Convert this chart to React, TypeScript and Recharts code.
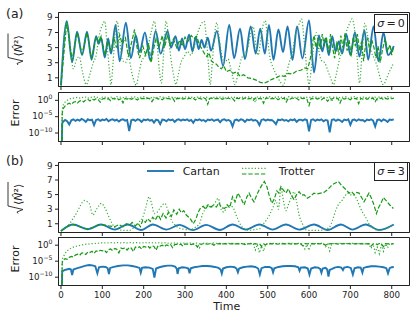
import { LineChart, Line, XAxis, YAxis, ReferenceArea, Legend } from 'recharts'

// ---------- data ----------

// (a) sigma = 0, sqrt(<N^2>)
const A_CARTAN_T = [0, 14, 27, 39, 51, 63, 74, 85, 91, 97, 106, 114, 121, 132, 142, 157, 169, 181, 190, 203, 216, 229, 241, 258, 266, 277, 285, 293, 300, 310, 318, 326, 333, 340, 347, 355, 363, 377, 392, 407, 419, 433, 445, 459, 471, 482, 493, 503, 514, 526, 537, 548, 560, 571, 584, 600, 612, 624, 632, 640, 648, 656, 664, 672, 680, 690, 700, 711, 722, 734, 743, 756, 768, 780, 791, 805]
const A_CARTAN_V = [0, 8.5, 3.1, 7.1, 4.0, 7.1, 3.4, 6.5, 5.5, 6.3, 3.7, 6.2, 4.2, 8.0, 3.2, 8.3, 3.6, 6.6, 4.4, 7.0, 3.3, 7.2, 4.2, 7.2, 5.0, 6.5, 4.6, 6.2, 4.8, 6.7, 4.5, 6.4, 4.8, 6.0, 5.0, 6.3, 4.6, 7.2, 2.6, 8.0, 3.6, 7.5, 3.5, 7.8, 4.2, 7.5, 4.2, 8.0, 3.4, 7.4, 4.4, 7.8, 3.4, 7.8, 3.6, 8.6, 1.7, 6.6, 4.5, 6.2, 4.0, 6.5, 4.5, 5.8, 4.2, 6.8, 4.0, 7.0, 3.8, 7.3, 3.4, 7.8, 3.2, 7.0, 4.0, 5.2]

const A_DASH_T = [0, 14, 27, 39, 51, 63, 74, 85, 91, 97, 106, 114, 121, 128, 134, 142, 148, 156, 163, 170, 178, 184, 190, 198, 205, 212, 218, 224, 230, 238, 245, 250, 258, 265, 272, 280, 287, 293, 300, 307, 315, 322, 328, 335, 340, 347, 353, 358, 364, 370, 376, 382, 388, 394, 400, 408, 416, 425, 433, 442, 452, 462, 472, 482, 492, 500, 510, 520, 530, 540, 550, 560, 570, 580, 590, 597, 603, 608, 612, 617, 622, 627, 632, 637, 642, 647, 652, 657, 662, 667, 672, 677, 682, 687, 692, 697, 702, 707, 712, 717, 722, 727, 732, 737, 742, 747, 752, 757, 762, 767, 772, 778, 784, 790, 796, 800, 805]
const A_DASH_V = [0, 8.4, 3.3, 7.0, 4.1, 7.0, 3.5, 6.4, 5.7, 6.5, 4.0, 5.8, 4.6, 6.4, 5.0, 6.7, 5.5, 6.3, 3.8, 5.5, 7.4, 5.0, 3.6, 5.2, 4.0, 5.6, 3.0, 4.8, 6.2, 5.2, 6.6, 5.0, 6.6, 5.4, 6.1, 5.0, 6.0, 5.2, 6.4, 5.8, 6.6, 6.2, 6.5, 5.4, 4.9, 4.2, 3.8, 4.3, 3.2, 3.0, 2.8, 2.4, 2.2, 2.6, 1.8, 2.0, 1.6, 1.8, 1.2, 1.4, 1.0, 0.9, 0.7, 0.4, 0.3, 0.5, 0.8, 1.0, 1.3, 1.2, 1.6, 1.5, 1.9, 2.0, 2.3, 2.2, 3.5, 5.5, 6.6, 5.0, 6.2, 4.8, 6.8, 5.2, 6.4, 4.3, 6.8, 5.0, 3.6, 5.8, 4.0, 6.6, 5.0, 6.9, 4.6, 6.0, 3.8, 6.4, 5.2, 6.8, 4.6, 5.8, 3.2, 5.5, 6.2, 4.5, 6.0, 5.0, 3.6, 5.2, 3.0, 4.8, 6.2, 4.5, 5.4, 4.0, 5.2]

const A_DOT_T = [0, 14, 22, 30, 38, 44, 52, 61, 70, 78, 85, 92, 100, 106, 112, 118, 121, 126, 131, 136, 142, 148, 156, 163, 170, 177, 182, 188, 195, 202, 210, 218, 226, 232, 238, 243, 248, 254, 260, 266, 272, 278, 283, 290, 298, 306, 314, 322, 330, 338, 346, 352, 357, 361, 366, 372, 377, 382, 389, 396, 404, 410, 416, 421, 428, 436, 445, 452, 459, 465, 471, 477, 483, 489, 494, 500, 506, 512, 520, 530, 538, 545, 552, 560, 568, 575, 582, 588, 594, 600, 606, 612, 618, 624, 630, 638, 645, 652, 659, 666, 674, 682, 690, 698, 704, 710, 716, 722, 728, 735, 742, 750, 758, 765, 772, 780, 788, 796, 805]
const A_DOT_V = [0, 8.3, 5.0, 2.2, 3.5, 3.8, 1.8, 0.1, 1.5, 3.0, 4.0, 6.5, 8.0, 8.5, 5.0, 1.5, 0.1, 3.0, 7.0, 8.5, 6.0, 3.5, 3.0, 3.8, 2.0, 0.5, 0.0, 1.5, 3.2, 3.8, 5.0, 7.0, 8.5, 6.0, 2.0, 0.3, 4.0, 8.5, 6.5, 3.5, 1.5, 0.1, 1.2, 3.0, 3.8, 4.5, 4.0, 5.0, 6.8, 8.0, 8.5, 6.0, 2.5, 0.1, 3.0, 7.0, 8.3, 6.5, 4.0, 3.0, 3.5, 2.4, 1.0, 0.1, 1.5, 3.5, 4.2, 5.0, 7.0, 7.8, 5.5, 4.0, 6.0, 8.0, 8.6, 6.0, 3.5, 2.5, 1.5, 0.5, 0.0, 1.5, 3.0, 4.5, 7.0, 8.0, 8.8, 6.0, 2.5, 0.1, 2.5, 5.5, 7.0, 4.5, 3.3, 3.0, 2.0, 1.0, 0.1, 1.5, 3.5, 5.0, 7.0, 8.2, 8.8, 7.5, 4.0, 0.3, 4.0, 8.2, 6.5, 4.5, 3.5, 2.5, 1.0, 0.1, 1.0, 2.0, 3.0]

// (a) sigma = 0, error as log10 exponent
const ERR_HEAD_T = [0, 2, 3]
const ERR_STEP_T = Array.from({ length: 161 }, (_, i) => 5 + 5 * i)

const A_ERR_CARTAN_HEAD = [-14, -14, -7.0]
const A_ERR_CARTAN = [
  -6.6, -6.0, -6.4, -7.4, -6.1, -5.8, -6.3, -5.9, -6.2, -5.7, -6.0, -6.6, -5.8, -6.1, -5.9, -7.6, -6.0, -5.8, -6.3, -5.9,
  -6.1, -5.7, -6.4, -6.0, -5.8, -6.2, -5.9, -6.5, -6.0, -5.8, -6.2, -6.0, -9.4, -6.1, -5.9, -6.3, -5.8, -6.0, -6.6, -5.9,
  -6.1, -5.8, -6.2, -6.0, -6.8, -5.9, -6.1, -7.3, -5.9, -6.0, -6.4, -5.8, -6.1, -5.9, -6.6, -6.0, -5.8, -6.2, -5.9, -6.1,
  -5.8, -6.3, -6.0, -6.9, -5.9, -6.1, -5.8, -6.2, -6.0, -6.5, -5.9, -6.1, -5.8, -6.3, -6.0, -5.9, -6.7, -6.0, -5.8, -6.2,
  -6.0, -6.4, -8.0, -6.1, -5.9, -6.3, -5.8, -6.0, -6.6, -5.9, -6.1, -5.8, -6.2, -6.0, -6.4, -7.6, -6.0, -5.8, -6.2, -5.9,
  -6.1, -6.0, -6.5, -7.3, -5.9, -6.1, -5.8, -6.2, -6.0, -6.4, -5.9, -6.1, -5.8, -6.6, -6.0, -5.9, -6.2, -5.8, -6.1, -9.5,
  -6.0, -5.8, -6.3, -5.9, -6.1, -5.8, -6.4, -6.0, -6.2, -9.8, -6.0, -5.8, -6.3, -5.9, -6.1, -6.6, -5.9, -6.1, -5.8, -7.5,
  -6.0, -5.9, -6.3, -5.8, -6.1, -6.0, -6.5, -5.9, -6.1, -5.8, -6.2, -8.0, -6.0, -5.9, -6.4, -5.8, -6.1, -6.6, -5.9, -6.0,
  -5.8,
]
const A_ERR_DASH_HEAD = [-14, -14, -4.0]
const A_ERR_DASH = [
  -2.6, -1.7, -1.2, -0.9, -1.3, -0.6, -0.4, -0.8, -0.2, 0.0, -0.5, 0.2, 0.3, -0.2, 0.4, 0.1, 0.5, 0.2, -0.6, 0.4,
  0.6, 0.3, 0.5, -0.1, 0.6, 0.4, 0.7, 0.2, 0.5, -0.8, 0.6, 0.4, 0.7, 0.3, 0.6, 0.5, 0.1, 0.7, 0.5, 0.6,
  0.3, 0.7, 0.5, -0.4, 0.6, 0.7, 0.4, 0.6, 0.2, 0.7, 0.5, 0.6, 0.4, 0.7, -0.3, 0.6, 0.5, 0.7, 0.4, 0.6,
  0.3, 0.7, 0.5, 0.6, 0.1, 0.7, 0.6, 0.4, 0.7, 0.5, -1.2, 0.6, 0.7, 0.4, 0.6, 0.5, 0.7, 0.3, 0.6, 0.5,
  0.7, 0.4, 0.6, -0.2, 0.7, 0.5, 0.6, 0.4, 0.7, 0.3, 0.6, 0.5, 0.0, 0.7, 0.4, 0.6, 0.5, -0.9, 0.6, 0.7,
  0.4, 0.6, 0.5, 0.7, 0.2, 0.6, 0.5, 0.7, -0.5, 0.6, 0.4, 0.7, 0.5, 0.6, 0.1, 0.7, 0.5, 0.6, 0.3, -1.6,
  0.6, 0.5, 0.7, 0.4, 0.6, 0.2, 0.7, 0.5, -0.3, 0.6, 0.4, 0.7, 0.5, 0.6, -0.8, 0.7, 0.4, 0.6, 0.5, 0.2,
  0.7, 0.5, 0.6, -1.0, 0.6, 0.4, 0.7, 0.3, 0.6, 0.5, 0.7, -0.4, 0.6, 0.5, 0.7, 0.2, 0.6, 0.4, 0.7, 0.5,
  0.6,
]
const A_ERR_DOT_HEAD = [-14, -14, -3.0]
const A_ERR_DOT = [
  -1.5, -0.5, 0.0, 0.4, 0.6, 0.7, 0.8, 0.9, 0.7, 1.0, 0.8, 1.0, 0.6, 1.0, 0.9, 1.1, 0.8, 1.0, 0.4, 1.0,
  0.9, 1.1, 0.8, 1.0, 0.9, 0.7, 1.1, 0.9, 1.0, 0.8, 1.1, 0.9, 0.5, 1.0, 0.9, 1.1, 0.8, 1.0, 0.9, 1.1,
  0.8, 1.0, 0.3, 1.1, 0.9, 1.0, 0.8, 1.1, 0.9, 1.0, 0.7, 1.1, 0.9, 1.0, 0.8, 1.1, 0.4, 1.0, 0.9, 1.1,
  0.8, 1.0, 0.9, 1.1, 0.7, 1.0, 0.9, 1.1, 0.8, 1.0, 0.9, 0.2, 1.0, 0.9, 1.1, 0.8, 1.0, 0.9, 1.1, 0.6,
  1.0, 0.8, 1.1, 0.9, 1.0, 0.5, 1.1, 0.9, 1.0, 0.8, 1.1, 0.9, 1.0, -0.6, 1.0, 0.9, 1.1, 0.8, 1.0, 0.9,
  1.1, 0.7, 1.0, 0.9, 1.1, 0.8, 1.0, 0.9, 0.3, 1.1, 0.9, 1.0, 0.8, 1.1, 0.9, 1.0, 0.7, 1.1, 0.9, 1.0,
  0.8, 1.1, 0.9, 1.0, 0.5, 1.1, 0.9, 1.0, 0.8, 1.1, -0.4, 1.0, 0.9, 1.1, 0.8, 1.0, 0.9, 1.1, 0.6, 1.0,
  0.9, 1.1, 0.8, 1.0, 0.9, 1.1, 0.7, 1.0, 0.9, 1.1, 0.8, 1.0, 0.2, 1.1, 0.9, 1.0, 0.8, 1.1, 0.9, 1.0,
  0.8,
]

// (b) sigma = 3, sqrt(<N^2>)
const B_CARTAN_T = [0, 8, 29, 65, 97, 130, 162, 194, 222, 255, 287, 319, 351, 384, 415, 447, 480, 512, 544, 576, 612, 645, 677, 705, 737, 770, 805]
const B_CARTAN_V = [0, 0.35, 0.9, 0.25, 0.9, 0.2, 0.9, 0.15, 0.9, 0.2, 0.85, 0.12, 0.85, 0.15, 0.9, 0.2, 0.9, 0.2, 0.9, 0.2, 0.9, 0.15, 0.9, 0.2, 0.9, 0.15, 0.9]

const B_DASH_T = [0, 8, 18, 29, 40, 52, 65, 78, 88, 97, 115, 130, 140, 150, 158, 166, 172, 180, 186, 192, 198, 204, 210, 216, 222, 228, 235, 241, 247, 254, 260, 267, 273, 280, 286, 291, 297, 303, 309, 315, 320, 326, 332, 338, 344, 350, 356, 362, 368, 376, 382, 388, 396, 402, 408, 415, 421, 428, 436, 443, 449, 455, 461, 467, 474, 480, 486, 492, 498, 504, 510, 516, 522, 527, 532, 538, 544, 550, 556, 564, 570, 576, 582, 588, 596, 604, 612, 620, 628, 636, 645, 652, 657, 664, 671, 678, 685, 691, 697, 703, 709, 715, 721, 727, 733, 739, 745, 751, 757, 763, 768, 774, 780, 786, 792, 798, 804]
const B_DASH_V = [0, 0.35, 0.75, 0.9, 0.75, 0.45, 0.3, 0.5, 0.8, 0.9, 0.7, 0.6, 0.9, 0.6, 1.0, 0.8, 1.2, 0.7, 1.1, 0.6, 1.5, 1.2, 1.7, 1.3, 1.9, 1.5, 2.2, 1.6, 2.4, 1.8, 2.6, 2.0, 2.9, 2.3, 3.0, 2.5, 2.8, 2.2, 1.9, 1.5, 1.0, 1.6, 2.6, 3.2, 3.4, 3.0, 3.6, 3.3, 3.5, 3.3, 3.9, 3.2, 3.1, 3.6, 3.2, 4.7, 4.0, 5.2, 4.4, 3.6, 4.6, 5.2, 4.5, 4.0, 5.0, 5.7, 6.3, 6.8, 6.1, 4.8, 3.8, 4.4, 5.5, 5.2, 6.1, 5.6, 5.2, 5.8, 5.0, 4.3, 5.0, 5.4, 4.9, 5.0, 4.5, 4.8, 5.2, 5.1, 5.2, 5.3, 5.7, 6.1, 6.4, 6.6, 6.8, 6.3, 5.9, 5.6, 5.2, 5.4, 5.0, 5.3, 5.2, 4.6, 4.0, 4.6, 5.2, 4.5, 3.6, 2.4, 3.2, 3.8, 4.6, 4.2, 3.8, 3.4, 3.1]

const B_DOT_T = [0, 10, 21, 30, 37, 46, 57, 64, 69, 77, 86, 98, 106, 114, 122, 130, 140, 150, 166, 175, 182, 190, 198, 205, 213, 219, 226, 233, 240, 251, 259, 267, 275, 283, 293, 303, 312, 319, 327, 335, 343, 349, 355, 362, 368, 374, 380, 385, 388, 394, 400, 408, 415, 425, 435, 445, 455, 468, 480, 490, 498, 506, 514, 520, 526, 532, 538, 544, 550, 557, 564, 570, 576, 584, 592, 600, 612, 625, 637, 649, 657, 665, 673, 680, 687, 693, 700, 709, 715, 721, 729, 737, 745, 753, 761, 770, 780, 790, 797, 804]
const B_DOT_V = [0, 0.4, 1.0, 1.8, 2.4, 3.4, 4.2, 4.0, 3.7, 2.2, 3.0, 3.8, 3.2, 2.2, 1.2, 0.5, 0.2, 0.1, 0.1, 0.4, 0.8, 1.3, 1.9, 3.2, 4.7, 3.8, 2.4, 2.6, 3.2, 3.8, 2.8, 1.5, 0.9, 0.5, 0.3, 0.2, 0.2, 0.3, 0.6, 1.0, 2.4, 3.0, 3.6, 3.2, 3.5, 4.0, 4.5, 3.6, 2.9, 2.6, 3.2, 3.5, 3.3, 2.0, 0.8, 0.3, 0.1, 0.2, 0.3, 1.0, 1.6, 2.4, 3.4, 4.2, 3.0, 5.9, 4.2, 2.8, 3.6, 4.6, 5.4, 4.0, 2.2, 1.0, 0.2, 0.1, 0.1, 0.1, 0.2, 0.5, 1.5, 2.9, 3.8, 4.2, 4.8, 5.2, 5.0, 4.9, 4.4, 3.6, 2.6, 1.9, 1.0, 0.5, 0.2, 0.1, 0.2, 0.4, 0.6, 0.8]

// (b) sigma = 3, error as log10 exponent
const B_ERR_CARTAN_T = [0, 2, 3, 8, 14, 20, 24, 27, 30, 36, 44, 52, 60, 68, 76, 83, 88, 92, 100, 108, 113, 116, 119, 128, 138, 150, 162, 172, 182, 190, 193, 196, 204, 214, 222, 226, 230, 238, 248, 258, 268, 276, 280, 282, 285, 293, 302, 308, 311, 314, 322, 332, 342, 352, 362, 372, 381, 386, 389, 392, 400, 410, 420, 425, 428, 431, 440, 450, 460, 470, 477, 481, 485, 494, 504, 510, 513, 516, 526, 536, 546, 556, 566, 574, 577, 580, 590, 597, 601, 605, 614, 622, 627, 630, 633, 640, 644, 647, 650, 656, 662, 670, 678, 682, 685, 693, 701, 706, 710, 718, 725, 729, 732, 740, 750, 760, 770, 780, 787, 791, 795, 800, 805]
const B_ERR_CARTAN_V = [-14, -14, -8.2, -7.8, -7.6, -7.4, -7.6, -9.3, -7.6, -7.3, -7.0, -6.7, -6.4, -6.2, -6.3, -6.6, -8.8, -6.9, -6.7, -6.8, -7.2, -9.0, -7.1, -6.8, -6.5, -6.3, -6.3, -6.5, -6.8, -7.1, -8.6, -7.1, -6.9, -7.0, -7.4, -10.1, -7.3, -6.9, -6.6, -6.4, -6.4, -6.7, -7.3, -9.0, -7.2, -6.9, -7.0, -7.3, -8.8, -7.2, -6.9, -6.7, -6.5, -6.5, -6.6, -6.8, -7.1, -7.6, -8.9, -7.3, -6.9, -6.7, -6.9, -7.4, -8.5, -7.3, -6.9, -6.7, -6.6, -6.8, -7.3, -9.2, -7.2, -6.8, -6.8, -7.2, -8.5, -7.2, -6.8, -6.6, -6.5, -6.5, -6.6, -6.9, -8.0, -7.0, -6.9, -7.3, -9.2, -7.3, -6.9, -7.0, -7.4, -8.6, -7.3, -7.1, -7.6, -9.8, -7.7, -7.4, -7.0, -6.8, -7.0, -7.8, -7.0, -6.8, -7.1, -9.2, -7.2, -6.9, -7.0, -8.6, -7.1, -6.8, -6.6, -6.6, -6.7, -6.9, -7.2, -8.8, -7.2, -6.9, -6.8]

const B_ERR_DASH_HEAD = [-14, -14, -5.5]
const B_ERR_DASH = [
  -4.8, -4.2, -4.4, -3.8, -3.5, -3.7, -3.1, -2.8, -3.2, -2.5, -2.4, -2.9, -2.1, -2.3, -1.9, -2.6, -1.8, -2.0, -1.6, -1.8,
  -1.5, -2.3, -1.4, -1.2, -1.7, -1.0, -1.3, -2.4, -0.9, -1.1, -0.8, -1.5, -0.7, -0.9, -2.0, -0.6, -0.8, -0.5, -1.2, -0.4,
  -0.6, -0.3, -0.9, -0.2, -0.4, -1.6, -0.1, -0.3, 0.0, -0.5, 0.1, -0.1, 0.2, -0.8, 0.2, 0.3, 0.1, 0.3, -0.3, 0.4,
  0.3, 0.4, 0.2, 0.4, 0.3, -0.6, 0.4, 0.3, 0.5, 0.4, 0.3, 0.5, 0.4, 0.0, 0.5, 0.4, 0.5, 0.3, 0.5, 0.4,
  0.5, 0.4, 0.5, 0.3, 0.5, 0.4, 0.5, 0.4, 0.2, 0.5, 0.4, 0.5, 0.4, 0.5, 0.3, 0.5, -0.4, 0.4, 0.1, 0.5,
  0.4, 0.5, 0.4, 0.5, 0.3, 0.5, 0.4, 0.5, 0.4, 0.5, 0.4, 0.3, 0.5, 0.4, 0.5, 0.4, -0.2, 0.5, 0.4, 0.5,
  0.4, 0.5, 0.3, 0.5, 0.4, 0.5, 0.4, 0.0, 0.5, 0.4, 0.5, 0.4, 0.5, 0.3, 0.5, 0.4, 0.5, 0.4, 0.5, 0.4,
  0.5, 0.4, 0.5, 0.3, 0.5, 0.4, 0.5, 0.4, 0.5, -0.3, 0.4, 0.5, 0.2, 0.5, 0.4, -0.5, 0.5, 0.4, 0.5, 0.4,
  0.5,
]
const B_ERR_DOT_HEAD = [-14, -14, -4.5]
const B_ERR_DOT = [
  -3.8, -2.6, -1.8, -1.2, -0.9, -0.6, -0.4, -0.2, -0.1, 0.1, 0.2, 0.3, 0.3, 0.4, 0.5, 0.5, 0.6, 0.6, 0.7, 0.7,
  0.7, 0.8, 0.7, 0.8, 0.8, 0.7, 0.8, 0.8, 0.7, 0.8, 0.8, 0.7, 0.8, 0.8, 0.7, 0.8, 0.8, 0.7, 0.8, 0.7,
  0.8, 0.7, 0.8, 0.7, 0.8, 0.7, 0.8, 0.6, 0.7, 0.8, 0.7, 0.6, 0.7, 0.5, 0.7, 0.6, 0.7, 0.6, 0.7, 0.6,
  0.6, 0.7, 0.6, 0.5, 0.7, 0.6, -0.8, 0.5, 0.6, 0.7, 0.6, 0.5, 0.6, 0.7, 0.6, 0.5, 0.6, 0.4, 0.6, 0.5,
  0.6, 0.5, 0.6, 0.4, 0.6, 0.5, 0.6, 0.4, 0.5, 0.3, 0.6, 0.5, 0.4, -1.5, 0.2, -2.4, -0.3, -1.9, 0.3, 0.5,
  0.6, 0.5, 0.6, 0.4, 0.6, 0.5, 0.6, 0.5, 0.4, 0.6, 0.5, 0.6, 0.4, 0.5, 0.6, 0.5, 0.3, -1.2, 0.2, -1.6,
  0.4, 0.6, 0.5, 0.6, 0.4, 0.6, 0.5, -0.5, 0.3, -1.8, 0.4, 0.5, 0.6, 0.5, 0.6, 0.4, 0.6, 0.5, 0.6, 0.5,
  0.6, 0.4, 0.6, 0.5, 0.6, 0.5, 0.4, 0.6, 0.3, -1.0, 0.4, -2.3, -0.6, -2.7, 0.1, -1.9, 0.4, -0.8, 0.5, 0.3,
  0.5,
]

const X_TICKS = [0, 100, 200, 300, 400, 500, 600, 700, 800]
const N_TICKS = [1, 3, 5, 7, 9]
const ERR_TICKS = [-10, -5, 0]

// ---------- layout / style ----------

const W = 415
const H = 316
const INK = '#222'
const X_DOMAIN: [number, number] = [-6, 843]
const ERR_DOMAIN: [number, number] = [-12.6, 2.4]

const CARTAN = { stroke: '#1f77b4', strokeWidth: 1.9 }
const DASHED = { stroke: '#149a14', strokeWidth: 1.2, strokeDasharray: '4.4 1.9' }
const DOTTED = { stroke: '#3aab3a', strokeWidth: 1.2, strokeDasharray: '1.2 2' }

type Pt = { t: number; v: number }
const zip = (ts: number[], vs: number[]): Pt[] => ts.map((t, i) => ({ t, v: vs[i] }))

type Series = { data: Pt[]; style: any; curve: 'linear' | 'monotone' }

function PowTick({ x, y, payload }: any) {
  const e = payload.value
  const sup = e < 0 ? '\u2212' + Math.abs(e) : String(e)
  return (
    <text x={x} y={y + 2.5} textAnchor="end" fontSize={8.7} fill={INK}>
      10<tspan dy={-3.8} fontSize={6.2}>{sup}</tspan>
    </text>
  )
}

function Panel({ top, bottom, axisH, yDomain, yTicks, yTick, showX, series, children }: any) {
  return (
    <div style={{ position: 'absolute', left: 0, top: 0 }}>
      <LineChart width={W} height={H} margin={{ top, right: 5.5, bottom: H - bottom - axisH, left: 0 }}>
        <XAxis
          type="number"
          dataKey="t"
          domain={X_DOMAIN}
          ticks={X_TICKS}
          interval={0}
          allowDataOverflow
          height={axisH}
          tickSize={3.5}
          tickMargin={2.5}
          stroke={INK}
          tick={showX ? { fontSize: 8.7, fill: INK } : () => <g />}
        />
        <YAxis
          type="number"
          domain={yDomain}
          ticks={yTicks}
          interval={0}
          allowDataOverflow
          width={58.5}
          tickSize={3.5}
          tickMargin={2.5}
          stroke={INK}
          tick={yTick}
        />
        {series.map((s: Series, i: number) => (
          <Line
            key={i}
            data={s.data}
            dataKey="v"
            type={s.curve}
            {...s.style}
            dot={false}
            activeDot={false}
            isAnimationActive={false}
          />
        ))}
        <ReferenceArea
          x1={X_DOMAIN[0]}
          x2={X_DOMAIN[1]}
          y1={yDomain[0]}
          y2={yDomain[1]}
          fill="none"
          stroke={INK}
          strokeWidth={1}
          ifOverflow="visible"
        />
        {children}
      </LineChart>
    </div>
  )
}

function LegendBox() {
  return (
    <svg width={190} height={22} style={{ display: 'block', fontFamily: 'DejaVu Sans' }}>
      <line x1={7} x2={34} y1={11} y2={11} {...CARTAN} />
      <text x={42.7} y={15} fontSize={11} fill={INK}>Cartan</text>
      <line x1={102} x2={127} y1={8.3} y2={8.3} {...DOTTED} />
      <line x1={102} x2={127} y1={14} y2={14} {...DASHED} />
      <text x={138.7} y={15} fontSize={11} fill={INK}>Trotter</text>
    </svg>
  )
}

function RootLabel({ x, y }: { x: number; y: number }) {
  return (
    <g transform={`translate(${x},${y}) rotate(-90)`} fill={INK}>
      <path d="M-16.5,3 L-15,2 L-12.5,8 L-9,-7 L15,-7" fill="none" stroke={INK} strokeWidth={0.9} />
      <text x={-8} y={7} fontSize={11}>
        {'\u27e8'}<tspan fontStyle="italic">N&#770;</tspan>{'\u00b2\u27e9'}
      </text>
    </g>
  )
}

function SigmaBox({ y, value }: { y: number; value: string }) {
  return (
    <g>
      <rect x={374.5} y={y} width={33} height={18} fill="#fff" stroke={INK} strokeWidth={1} />
      <text x={391} y={y + 12.8} textAnchor="middle" fontSize={11} fill={INK}>
        <tspan fontStyle="italic">{'\u03c3'}</tspan>{'\u2009=\u2009' + value}
      </text>
    </g>
  )
}

export default function App() {
  const aTop: Series[] = [
    { data: zip(A_CARTAN_T, A_CARTAN_V), style: CARTAN, curve: 'monotone' },
    { data: zip(A_DOT_T, A_DOT_V), style: DOTTED, curve: 'monotone' },
    { data: zip(A_DASH_T, A_DASH_V), style: DASHED, curve: 'linear' },
  ]
  const aErr: Series[] = [
    { data: zip([...ERR_HEAD_T, ...ERR_STEP_T], [...A_ERR_CARTAN_HEAD, ...A_ERR_CARTAN]), style: CARTAN, curve: 'linear' },
    { data: zip([...ERR_HEAD_T, ...ERR_STEP_T], [...A_ERR_DOT_HEAD, ...A_ERR_DOT]), style: DOTTED, curve: 'linear' },
    { data: zip([...ERR_HEAD_T, ...ERR_STEP_T], [...A_ERR_DASH_HEAD, ...A_ERR_DASH]), style: DASHED, curve: 'linear' },
  ]
  const bTop: Series[] = [
    { data: zip(B_CARTAN_T, B_CARTAN_V), style: CARTAN, curve: 'monotone' },
    { data: zip(B_DOT_T, B_DOT_V), style: DOTTED, curve: 'monotone' },
    { data: zip(B_DASH_T, B_DASH_V), style: DASHED, curve: 'linear' },
  ]
  const bErr: Series[] = [
    { data: zip(B_ERR_CARTAN_T, B_ERR_CARTAN_V), style: CARTAN, curve: 'linear' },
    { data: zip([...ERR_HEAD_T, ...ERR_STEP_T], [...B_ERR_DOT_HEAD, ...B_ERR_DOT]), style: DOTTED, curve: 'linear' },
    { data: zip([...ERR_HEAD_T, ...ERR_STEP_T], [...B_ERR_DASH_HEAD, ...B_ERR_DASH]), style: DASHED, curve: 'linear' },
  ]
  const numTick = { fontSize: 8.7, fill: INK }

  return (
    <div style={{ position: 'absolute', left: 0, top: 0, width: W, height: H, background: '#fff', fontFamily: 'DejaVu Sans' }}>
      <Panel top={12.5} bottom={86.5} axisH={5} yDomain={[-0.15, 9.65]} yTicks={N_TICKS} yTick={numTick} series={aTop} />
      <Panel top={92.5} bottom={141.5} axisH={5} yDomain={ERR_DOMAIN} yTicks={ERR_TICKS} yTick={PowTick} series={aErr} />
      <Panel top={162.5} bottom={232.5} axisH={5} yDomain={[-0.2, 9.4]} yTicks={N_TICKS} yTick={numTick} series={bTop}>
        <Legend
          layout="vertical"
          align="center"
          verticalAlign="middle"
          content={() => <LegendBox />}
          wrapperStyle={{ left: 140, top: 160, width: 190, height: 22 }}
        />
      </Panel>
      <Panel top={237.5} bottom={285.5} axisH={30} yDomain={ERR_DOMAIN} yTicks={ERR_TICKS} yTick={PowTick} showX series={bErr} />

      <svg width={W} height={H} style={{ position: 'absolute', left: 0, top: 0, pointerEvents: 'none' }}>
        <text x={6} y={18} fontSize={12.5} fill={INK}>(a)</text>
        <text x={6} y={164.5} fontSize={12.5} fill={INK}>(b)</text>
        <RootLabel x={15} y={48.5} />
        <RootLabel x={15} y={197} />
        <text transform="translate(15,113) rotate(-90)" y={4} textAnchor="middle" fontSize={11} fill={INK}>Error</text>
        <text transform="translate(15,259) rotate(-90)" y={4} textAnchor="middle" fontSize={11} fill={INK}>Error</text>
        <SigmaBox y={14.5} value="0" />
        <SigmaBox y={162.5} value="3" />
        <text x={226.7} y={310} textAnchor="middle" fontSize={11} fill={INK}>Time</text>
      </svg>
    </div>
  )
}
